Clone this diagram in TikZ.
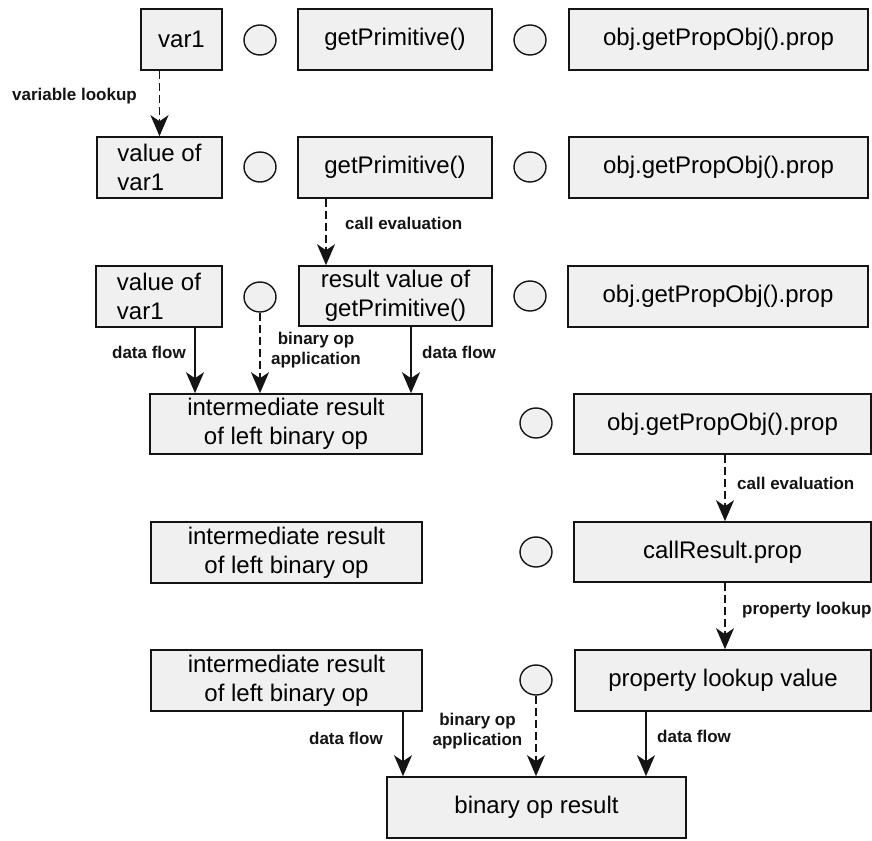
\documentclass[tikz,border=0pt]{standalone}
\usepackage{fontspec}
\setmainfont{Liberation Sans}
\usetikzlibrary{arrows.meta,shapes.geometric}
\definecolor{boxfill}{RGB}{240,240,240}
\definecolor{ink}{RGB}{20,20,20}
\begin{document}
\begin{tikzpicture}[x=1pt,y=-1pt,
  box/.style={draw=ink, fill=boxfill, line width=1.6pt, rectangle, inner sep=0pt,
    align=center, font=\fontsize{24}{29}\selectfont},
  dot/.style={draw=ink, fill=boxfill, line width=1.4pt, ellipse, inner sep=0pt,
    minimum width=32pt, minimum height=30pt},
  tip/.style={-{Stealth[length=21pt,width=18pt,inset=6pt]}},
  flow/.style={tip, draw=ink, line width=1.5pt},
  lookup/.style={flow, dash pattern=on 8pt off 4pt},
  lbl/.style={inner sep=0pt, align=center, text=ink, font=\bfseries\fontsize{17}{20.5}\selectfont}]
\useasboundingbox (0,0) rectangle (872,840);

% row 1
\node[box, minimum width=81pt, minimum height=61pt] (var1) at (181.5,39.5) {var1};
\node[dot] (o1a) at (260,40) {};
\node[box, minimum width=194pt, minimum height=61pt] (gp1) at (395,39.5) {getPrimitive()};
\node[dot] (o1b) at (530,40) {};
\node[box, minimum width=299pt, minimum height=61pt] (obj1) at (718.5,39.5) {obj.getPropObj().prop};

% row 2
\node[box, minimum width=125pt, minimum height=61pt, align=left] (vv2) at (159.5,167.5) {value of\\var1};
\node[dot] (o2a) at (260,167) {};
\node[box, minimum width=194pt, minimum height=61pt] (gp2) at (395,167.5) {getPrimitive()};
\node[dot] (o2b) at (530,167) {};
\node[box, minimum width=299pt, minimum height=61pt] (obj2) at (718.5,167.5) {obj.getPropObj().prop};

% row 3
\node[box, minimum width=126pt, minimum height=61pt, align=left] (vv3) at (159,296.5) {value of\\var1};
\node[dot] (o3a) at (260,297) {};
\node[box, minimum width=193pt, minimum height=60pt] (res3) at (395.5,296) {result value of\\getPrimitive()};
\node[dot] (o3b) at (530,296) {};
\node[box, minimum width=300pt, minimum height=61pt] (obj3) at (718,296.5) {obj.getPropObj().prop};

% row 4
\node[box, minimum width=272pt, minimum height=60pt] (im4) at (286,424) {intermediate result\\of left binary op};
\node[dot] (o4) at (536,423) {};
\node[box, minimum width=297pt, minimum height=60pt] (obj4) at (722.5,424) {obj.getPropObj().prop};

% row 5
\node[box, minimum width=271pt, minimum height=61pt] (im5) at (286.5,552.5) {intermediate result\\of left binary op};
\node[dot] (o5) at (536,552) {};
\node[box, minimum width=297pt, minimum height=60pt] (cr5) at (722.5,552) {callResult.prop};

% row 6
\node[box, minimum width=271pt, minimum height=61pt] (im6) at (286.5,680.5) {intermediate result\\of left binary op};
\node[dot] (o6) at (536,680) {};
\node[box, minimum width=296pt, minimum height=61pt] (pv6) at (723,680.5) {property lookup value};

% result
\node[box, minimum width=299pt, minimum height=61pt] (bin) at (536.5,807.5) {binary op result};

% connector columns
\coordinate (xa) at (326,0);
\coordinate (xb) at (195,0);
\coordinate (xc) at (411,0);
\coordinate (xd) at (725,0);
\coordinate (xe) at (403,0);
\coordinate (xf) at (646,0);

% connectors
\draw[lookup] (var1.south -| vv2.north) -- (vv2.north);
\draw[lookup] (gp2.south -| xa) -- (res3.north -| xa);
\draw[flow] (vv3.south -| xb) -- (im4.north -| xb);
\draw[lookup] (o3a.south) -- (im4.north -| o3a.south);
\draw[flow] (res3.south -| xc) -- (im4.north -| xc);
\draw[lookup] (obj4.south -| xd) -- (cr5.north -| xd);
\draw[lookup] (cr5.south -| xd) -- (pv6.north -| xd);
\draw[flow] (im6.south -| xe) -- (bin.north -| xe);
\draw[lookup] (o6.south) -- (bin.north -| o6.south);
\draw[flow] (pv6.south -| xf) -- (bin.north -| xf);

% connector labels
\node[lbl, anchor=east] (l1) at (137,96) {variable lookup};
\node[lbl, anchor=west] (l2) at (345,223) {call evaluation};
\node[lbl, anchor=east] (l3) at (186,352) {data flow};
\node[lbl] (l4) at (316,350) {binary op\\application};
\node[lbl, anchor=west] (l5) at (422,352) {data flow};
\node[lbl, anchor=west] (l6) at (737,483) {call evaluation};
\node[lbl, anchor=west] (l7) at (742,610) {property lookup};
\node[lbl, anchor=east] (l8) at (383,738) {data flow};
\node[lbl] (l9) at (477.5,731) {binary op\\application};
\node[lbl, anchor=west] (l10) at (657,736) {data flow};
\end{tikzpicture}
\end{document}
